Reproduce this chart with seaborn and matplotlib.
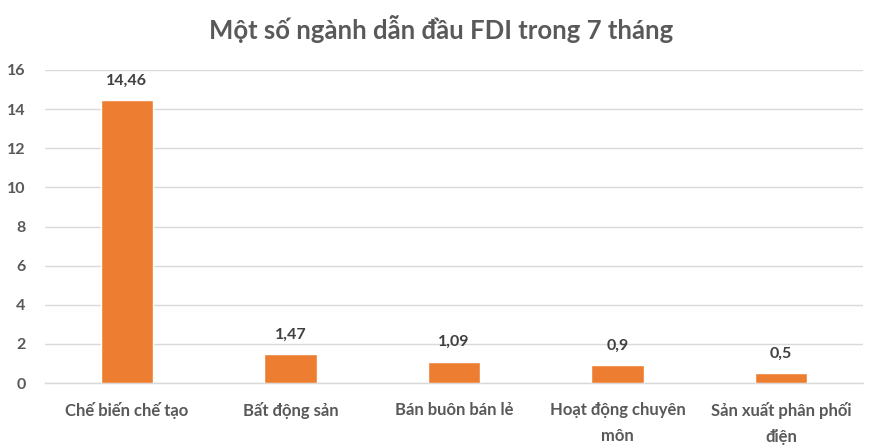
import matplotlib
matplotlib.use("Agg")
import matplotlib.pyplot as plt
import seaborn as sns
import pandas as pd

categories = ["Chế biến chế tạo", "Bất động sản", "Bán buôn bán lẻ",
              "Hoạt động chuyên\nmôn", "Sản xuất phân phối\nđiện"]
values = [14.46, 1.47, 1.09, 0.9, 0.5]
value_labels = ["14,46", "1,47", "1,09", "0,9", "0,5"]
yticks = [0, 2, 4, 6, 8, 10, 12, 14, 16]
title = "Một số ngành dẫn đầu FDI trong 7 tháng"

sns.set_theme(style="white")
plt.rcParams['font.family'] = ['Lato', 'DejaVu Sans']

df = pd.DataFrame({"cat": categories, "val": values})

fig = plt.figure(figsize=(8.74, 4.45), dpi=100)
ax = fig.add_axes([0.0515, 0.1393, 0.9359, 0.7034])
sns.barplot(data=df, x="cat", y="val", color="#ED7D31", width=0.32,
            saturation=1, ax=ax, zorder=3)

txt = "#595959"
ax.set_xlim(-0.5, 4.5)
ax.set_ylim(0, 16)
ax.set_yticks(yticks)
ax.set_yticklabels([str(t) for t in yticks], fontsize=11.5, fontweight="bold", color=txt)
ax.set_xticks(range(len(categories)))
ax.set_xticklabels(categories, fontsize=12, fontweight="bold", color=txt, linespacing=1.7)
ax.tick_params(axis="both", length=0)
ax.tick_params(axis="x", pad=14)
ax.tick_params(axis="y", pad=14)
ax.grid(axis="y", color="#D9D9D9", linewidth=1, zorder=0)
ax.set_axisbelow(True)
for s in ["top", "right", "left"]:
    ax.spines[s].set_visible(False)
ax.spines["bottom"].set_color("#D9D9D9")
ax.spines["bottom"].set_linewidth(1)
ax.set_xlabel("")
ax.set_ylabel("")

for i, (v, lab) in enumerate(zip(values, value_labels)):
    ax.annotate(lab, (i, v), xytext=(0, 9), textcoords="offset points",
                ha="center", va="bottom", fontsize=11.5, fontweight="bold", color="#404040")

fig.text(0.505, 0.935, title, ha="center", va="center", fontsize=18.5, fontweight="bold", color=txt)

fig.savefig("out.png", dpi=100, facecolor="white")
